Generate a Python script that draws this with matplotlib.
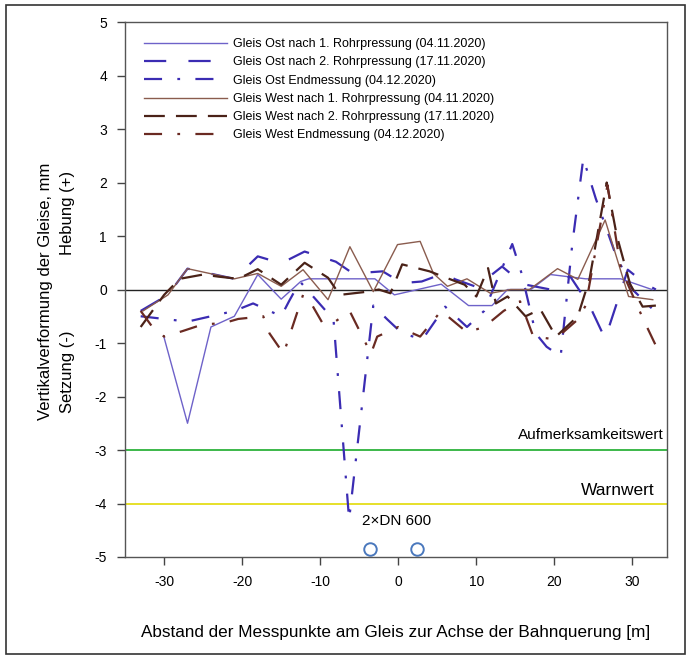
import matplotlib
matplotlib.use('Agg')
import matplotlib.pyplot as plt
from matplotlib.patches import Rectangle

plt.rcParams['font.family'] = ['Liberation Sans', 'DejaVu Sans']
plt.rcParams['lines.scale_dashes'] = False
plt.rcParams['axes.unicode_minus'] = False

x_ost1 = [-30, -27, -24, -21, -18, -15, -12.5, -11.5, -3, -0.5, 5.5, 9, 12, 14, 17, 19.5, 24, 28.5, 32.5]
y_ost1 = [-0.9, -2.5, -0.7, -0.5, 0.28, -0.18, 0.15, 0.2, 0.2, -0.1, 0.1, -0.3, -0.3, 0.0, 0.0, 0.28, 0.2, 0.2, 0.0]

x_ost2 = [-33, -29.5, -27, -21, -18, -15, -12, -8, -5.8, -2, 0.5, 3, 5.8, 7.3, 10, 13.3, 16, 19.5, 22, 24.5, 26.5, 29.4, 31.7, 33]
y_ost2 = [-0.4, -0.1, 0.39, 0.2, 0.62, 0.49, 0.71, 0.52, 0.3, 0.34, 0.12, 0.15, 0.3, 0.19, 0.05, 0.43, 0.1, 0.0, 0.25, -0.3, -0.92, 0.37, 0.1, 0.0]

x_ost3 = [-33, -30, -27, -24, -21, -18.6, -15, -14, -12.6, -8.3, -6.3, -3.2, -1.4, 0.5, 3.1, 6, 8.8, 11, 12.4, 14.6, 15.8, 17.6, 19, 20.8, 22.3, 23.7, 25.3, 27.8, 30, 32.6]
y_ost3 = [-0.5, -0.55, -0.6, -0.5, -0.4, -0.26, -0.5, -0.22, 0.15, -0.56, -4.3, -0.3, -0.56, -0.82, -0.93, -0.32, -0.7, -0.4, 0.09, 0.85, 0.3, -0.82, -1.07, -1.25, 0.86, 2.45, 1.7, 0.67, 0.0, -0.37]

x_west1 = [-32.7, -29.5, -27, -21, -18, -15, -12.2, -9, -6.2, -3.2, -0.1, 2.8, 4.5, 6.3, 8.8, 11.8, 14.4, 16.8, 20.4, 23, 26.5, 29.5, 32.6]
y_west1 = [-0.4, -0.1, 0.39, 0.2, 0.3, 0.06, 0.37, -0.19, 0.8, -0.04, 0.84, 0.9, 0.3, 0.06, 0.2, -0.07, 0.0, 0.0, 0.39, 0.19, 1.3, -0.13, -0.19]

x_west2 = [-33, -31.5, -30, -28, -25, -23, -20.5, -18, -15, -12, -9, -7.5, -4.5, -2.5, -1, 0.5, 4, 6.5, 8.5, 10, 11.5, 12.5, 14, 16.3, 18.2, 20.2, 23, 24.5, 26.7, 28, 29.7, 31.3, 33]
y_west2 = [-0.7, -0.4, -0.1, 0.2, 0.28, 0.24, 0.2, 0.38, 0.09, 0.5, 0.22, -0.1, -0.05, 0.0, -0.07, 0.47, 0.34, 0.2, 0.09, -0.13, 0.4, -0.26, -0.13, -0.5, -0.37, -0.88, -0.5, 0.2, 2.0, 1.0, 0.1, -0.32, -0.3]

x_west3 = [-33, -31.5, -30, -27.7, -25, -22.4, -20.5, -17.3, -16.5, -14.7, -12.2, -11, -9.7, -8.1, -6.2, -3.5, -2.7, 0, 2.8, 5.5, 8.8, 11, 13.5, 15.6, 17.3, 19.5, 20.8, 23, 24, 26.8, 28.5, 30, 31.4, 33]
y_west3 = [-0.4, -0.7, -0.88, -0.78, -0.65, -0.63, -0.55, -0.5, -0.82, -1.2, -0.1, -0.3, -0.63, -0.6, -0.41, -1.2, -0.88, -0.7, -0.88, -0.4, -0.8, -0.7, -0.4, -0.22, -0.88, -0.92, -0.84, -0.56, -0.3, 1.95, 0.4, -0.1, -0.56, -1.05]

labels = ['Gleis Ost nach 1. Rohrpressung (04.11.2020)',
          'Gleis Ost nach 2. Rohrpressung (17.11.2020)',
          'Gleis Ost Endmessung (04.12.2020)',
          'Gleis West nach 1. Rohrpressung (04.11.2020)',
          'Gleis West nach 2. Rohrpressung (17.11.2020)',
          'Gleis West Endmessung (04.12.2020)']

rohr_x = [-3.6, 2.4]
rohr_y = -4.85

fig = plt.figure(figsize=(6.91, 6.58), dpi=100)
ax = fig.add_axes([0.181, 0.1535, 0.784, 0.813])

c_ost1 = '#6e62c9'
c_ost = '#3b2cb3'
c_west1 = '#8a5c4e'
c_west2 = '#4a2218'
c_west3 = '#6a2a22'

ax.plot(x_ost1, y_ost1, color=c_ost1, lw=1.0, label=labels[0])
ax.plot(x_ost2, y_ost2, color=c_ost, lw=1.6, dashes=(16, 16), label=labels[1])
ax.plot(x_ost3, y_ost3, color=c_ost, lw=1.6, dashes=(13, 11, 2, 11), label=labels[2])
ax.plot(x_west1, y_west1, color=c_west1, lw=1.0, label=labels[3])
ax.plot(x_west2, y_west2, color=c_west2, lw=1.6, dashes=(15, 8), label=labels[4])
ax.plot(x_west3, y_west3, color=c_west3, lw=1.6, dashes=(13, 11, 2, 11), label=labels[5])

ax.axhline(0, color='#222222', lw=1.0, zorder=1)
ax.axhline(-3, color='#3cb84a', lw=1.4, zorder=1)
ax.axhline(-4, color='#e6e02a', lw=1.4, zorder=1)

ax.text(34.0, -2.72, 'Aufmerksamkeitswert', ha='right', va='center', fontsize=11)
ax.text(32.8, -3.76, 'Warnwert', ha='right', va='center', fontsize=12.5)
ax.text(-0.2, -4.32, '2×DN 600', ha='center', va='center', fontsize=11)
for rx in rohr_x:
    ax.plot(rx, rohr_y, marker='o', ms=9, mfc='none', mec='#4a78bd', mew=1.4, clip_on=False)

ax.set_xlim(-35, 34.4)
ax.set_ylim(-5, 5)
ax.set_xticks(range(-30, 31, 10))
ax.set_yticks(range(-5, 6))
ax.tick_params(direction='out', length=6, width=1, labelsize=10, pad=7, color='#444444')
for s in ax.spines.values():
    s.set_color('#555555')
    s.set_linewidth(1.0)

ax.set_xlabel('Abstand der Messpunkte am Gleis zur Achse der Bahnquerung [m]', fontsize=12.3, labelpad=26)
fig.text(0.066, 0.557, 'Vertikalverformung der Gleise, mm', rotation=90, ha='center', va='center', fontsize=12)
fig.text(0.098, 0.676, 'Hebung (+)', rotation=90, ha='center', va='center', fontsize=12)
fig.text(0.098, 0.435, 'Setzung (-)', rotation=90, ha='center', va='center', fontsize=12)

leg = ax.legend(loc='upper left', bbox_to_anchor=(0.208, 0.942), bbox_transform=fig.transFigure,
                frameon=False, fontsize=9, handlelength=6.7, handletextpad=0.45,
                labelspacing=0.5, borderaxespad=0, borderpad=0)

fig.patches.append(Rectangle((0.008, 0.006), 0.984, 0.986, transform=fig.transFigure,
                             fill=False, ec='#333333', lw=1.2))

fig.savefig('out.png', dpi=100)
